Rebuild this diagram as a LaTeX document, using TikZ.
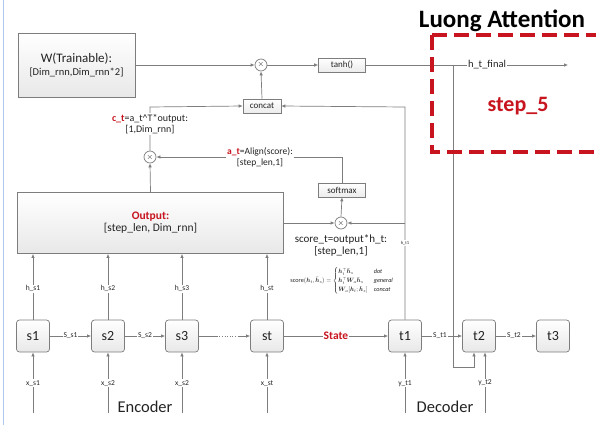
\documentclass[tikz,border=0pt]{standalone}
\usepackage{fontspec}
\usepackage{amsmath}
\usepackage{graphicx}
\setmainfont{Carlito}
\usetikzlibrary{arrows.meta,calc}
\definecolor{lc}{RGB}{125,125,125}
\definecolor{tc}{RGB}{35,35,35}
\definecolor{dred}{RGB}{200,20,30}
\definecolor{bl}{RGB}{175,200,240}
\begin{document}
\begin{tikzpicture}[x=1pt,y=-1pt,
  conn/.style={draw=lc,line width=0.7pt},
  arr/.style={conn,-{Latex[length=4pt,width=3.5pt]}},
  bigbox/.style={draw=lc,line width=0.7pt,top color=white,bottom color=gray!18,align=center,text=tc},
  sbox/.style={draw=lc,line width=0.6pt,top color=white,bottom color=gray!15,minimum height=14pt,inner sep=2pt,text=tc,font=\fontsize{9}{10}\selectfont},
  cell/.style={draw=lc,line width=0.7pt,rounded corners=3pt,top color=white,bottom color=gray!18,minimum width=33pt,minimum height=32pt,text=tc,font=\fontsize{14}{15}\selectfont},
  mul/.style={circle,draw=lc,line width=0.7pt,fill=white,minimum size=12pt,inner sep=0pt,text=tc,font=\fontsize{8}{8}\selectfont},
  lab/.style={fill=white,inner sep=1pt,text=tc,font=\fontsize{7.5}{8}\selectfont},
  midlab/.style={fill=white,inner sep=1pt,text=tc,align=center,font=\fontsize{10}{12}\selectfont}]
\useasboundingbox[fill=white] (0,0) rectangle (596,425);
\draw[bl,line width=1pt] (3,0) -- (3,425);

% top row
\node[bigbox,minimum width=117pt,minimum height=64pt] (W) at (76.5,65)
  {{\fontsize{13}{16}\selectfont W(Trainable):}\\[1pt]{\fontsize{10.5}{12}\selectfont [Dim\_rnn,Dim\_rnn*2]}};
\node[mul] (m1) at (261,65) {$\times$};
\node[sbox,minimum width=47pt] (tanh) at (342,65) {tanh()};
\coordinate (hend) at (568,65);
\coordinate (fb) at (453,65);
\node[sbox,minimum width=38pt] (concat) at (262,106) {concat};

% output box
\node[bigbox,minimum width=266pt,minimum height=61pt] (Out) at (150.5,223)
  {{\fontsize{11.5}{14}\selectfont\bfseries\color{dred}Output:}\\{\fontsize{11.5}{14}\selectfont [step\_len, Dim\_rnn]}};
\node[mul] (m2) at (150,157) {$\times$};
\node[mul] (m3) at (341,223) {$\times$};
\node[sbox,minimum width=47pt] (soft) at (342,190) {softmax};

% cells
\foreach \n/\x in {s1/33,s2/108,s3/182,st/267,t1/405,t2/479,t3/553}
  \node[cell] (\n) at (\x,336) {\n};

% top connections
\draw[arr] (W.east) -- (m1.west);
\draw[arr] (m1.east) -- (tanh.west);
\draw[arr] (tanh.east) -- (hend);
\node[lab,font=\fontsize{10.5}{11}\selectfont] (hfin) at (487,65) {h\_t\_final};
\draw[arr] (concat.north) -- (m1.south);

% c_t path
\coordinate (ccorner) at (150,107);
\draw[arr] (m2.north) -- (ccorner) -- (concat.west);
\node[midlab] (ct) at (150,124) {{\color{dred}\textbf{c\_t}}=a\_t\textasciicircum T*output:\\[-1pt][1,Dim\_rnn]};

% h_t1 path
\coordinate (tcorner) at (405,107);
\coordinate (tbranch) at (405,223);
\draw[arr] (t1.north) -- (tcorner) -- (concat.east);
\draw[arr] (tbranch) -- (m3.east);
\node[lab,font=\fontsize{4.5}{5}\selectfont] (ht1) at (405,243) {h\_t1};

% attention path
\draw[arr] (Out.north) -- (m2.south);
\draw[arr] (Out.east |- m3) -- (m3.west);
\draw[arr] (m3.north) -- (soft.south);
\coordinate (scorner) at (342,157);
\draw[arr] (soft.north) -- (scorner) -- (m2.east);
\node[midlab,font=\fontsize{9.5}{12}\selectfont] (at) at (260,157) {{\color{dred}\textbf{a\_t}}=Align(score):\\[-1pt][step\_len,1]};
\node[midlab,font=\fontsize{11}{13}\selectfont] (sc) at (341,245) {score\_t=output*h\_t:\\[-1pt][step\_len,1]};
\node[text=tc,inner sep=0pt] (formula) at (342,281) {\scalebox{0.62}{$\mathrm{score}(\boldsymbol{h}_t,\bar{\boldsymbol{h}}_s)=\begin{cases}\boldsymbol{h}_t^{\top}\bar{\boldsymbol{h}}_s & \textit{dot}\\ \boldsymbol{h}_t^{\top}\boldsymbol{W}_{\!a}\bar{\boldsymbol{h}}_s & \textit{general}\\ \boldsymbol{W}_{\!a}[\boldsymbol{h}_t;\bar{\boldsymbol{h}}_s] & \textit{concat}\end{cases}$}};

% feedback h_t_final -> t2
\coordinate (fb1) at (453,367);
\coordinate (fb2) at (474,367);
\draw[arr] (fb) -- (fb1) -- (fb2) -- ($(t2.south)+(-5,0)$);

% hidden states up to Output
\foreach \n/\t in {s1/h\_s1,s2/h\_s2,s3/h\_s3,st/h\_st}{
  \draw[arr] (\n.north) -- (\n.north |- Out.south);
  \node[lab] at ($(\n.north)+(0,-31)$) {\t};
}
% inputs
\foreach \n/\t in {s1/x\_s1,s2/x\_s2,s3/x\_s2,st/x\_st,t1/y\_t1}{
  \draw[arr] ($(\n.south)+(0,61)$) -- (\n.south);
  \node[lab] at ($(\n.south)+(0,31)$) {\t};
}
\coordinate (yt2) at (485,413);
\draw[arr] (yt2) -- ($(t2.south)+(6,0)$);
\node[lab] at (485,383) {y\_t2};

% horizontal chain
\draw[arr] (s1.east) -- (s2.west);
\node[lab] at ($(s1.east)!0.5!(s2.west)$) {S\_s1};
\draw[arr] (s2.east) -- (s3.west);
\node[lab] at ($(s2.east)!0.5!(s3.west)$) {S\_s2};
\coordinate (d1) at ($(s3.east)+(18,0)$);
\coordinate (d2) at ($(st.west)+(-12,0)$);
\draw[conn] (s3.east) -- (d1);
\draw[lc,line width=1pt,dash pattern=on 1pt off 1.6pt] (d1) -- (d2);
\draw[arr] (d2) -- (st.west);
\draw[arr] (st.east) -- (t1.west);
\node[lab,font=\fontsize{11.5}{12}\selectfont\bfseries,text=dred] at (336,336) {State};
\draw[arr] (t1.east) -- (t2.west);
\node[lab] at ($(t1.east)!0.45!(t2.west)$) {S\_t1};
\draw[arr] (t2.east) -- (t3.west);
\node[lab] at ($(t2.east)!0.45!(t3.west)$) {S\_t2};

\node[text=tc,font=\fontsize{16.5}{17}\selectfont] (enc) at (145,407) {Encoder};
\node[text=tc,font=\fontsize{16.5}{17}\selectfont] (dec) at (445,407) {Decoder};

% Luong box
\draw[dred,line width=3.8pt,dash pattern=on 15pt off 7pt] (432,35) -- (600,35);
\draw[dred,line width=3.8pt,dash pattern=on 15pt off 7pt] (432,35) -- (432,152) -- (600,152);
\node[font=\fontsize{25}{27}\selectfont\bfseries,text=black,inner sep=0pt] (title) at (502,21) {Luong Attention};
\node[font=\fontsize{22}{24}\selectfont\bfseries,text=dred,inner sep=0pt] (step) at (518,106) {step\_5};
\end{tikzpicture}
\end{document}
